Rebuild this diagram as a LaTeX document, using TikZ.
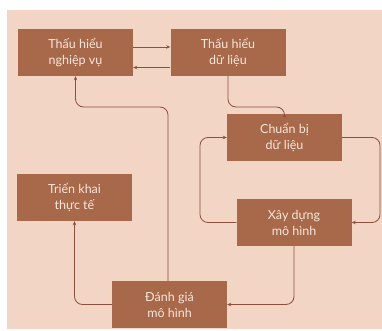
\documentclass[tikz,border=0pt]{standalone}
\usepackage{fontspec}
\setmainfont{Lato}
\usepackage{tikz}
\usetikzlibrary{arrows.meta}
\definecolor{nen}{HTML}{F2D5C4}
\definecolor{hop}{HTML}{A8694B}
\definecolor{chu}{HTML}{F8E6DA}
\definecolor{duong}{HTML}{8E4F3D}
\tikzset{
	buoc/.style={fill=hop, text=chu, minimum width=115pt, minimum height=47pt, inner sep=0pt, align=center, font=\fontsize{12.5}{16}\selectfont},
	noi/.style={draw=duong, line width=0.8pt, rounded corners=8pt, -{Stealth[length=4pt,width=3.5pt]}}
}

\begin{document}
\begin{tikzpicture}[x=1pt, y=-1pt]
	\useasboundingbox (0,0) rectangle (382,331);
	\fill[nen] (7,10) rectangle (382,329);
	%%%nodes
	%top row
	\node[buoc] at (75.5,52.5) (nghiepvu){Thấu hiểu\\nghiệp vụ};
	\node[buoc] at (228,52.5) (hieudl){Thấu hiểu\\dữ liệu};
	%middle
	\node[buoc] at (284.5,137.5) (chuanbi){Chuẩn bị\\dữ liệu};
	\node[buoc] at (74.5,197.5) (trienkhai){Triển khai\\thực tế};
	\node[buoc] at (294,222.5) (xaydung){Xây dựng\\mô hình};
	%bottom
	\node[buoc] at (169.5,304.5) (danhgia){Đánh giá\\mô hình};
	%turning points
	\coordinate (g1) at (228,107);
	\coordinate (g2) at (168,107);
	\coordinate (g3) at (200,222.5);
	\coordinate (g4) at (380,137.5);
	%%%links
	%between the two first steps
	\draw[noi] ([yshift=5.5pt]nghiepvu.east) -- ([yshift=5.5pt]hieudl.west);
	\draw[noi] ([yshift=-15pt]hieudl.west) -- ([yshift=-15pt]nghiepvu.east);
	%down to data preparation
	\draw[noi] (hieudl.south) -- (g1) -| (chuanbi.north);
	%loop preparation / modelling
	\draw[noi] (xaydung.west) -- (g3) |- (chuanbi.west);
	\draw[noi] (chuanbi.east) -- (g4) |- (xaydung.east);
	%evaluation
	\draw[noi] (xaydung.south) |- (danhgia.east);
	\draw[noi] ([xshift=-1.5pt]danhgia.north) -- (g2) -| (nghiepvu.south);
	\draw[noi] (danhgia.west) -| (trienkhai.south);
\end{tikzpicture}
\end{document}
